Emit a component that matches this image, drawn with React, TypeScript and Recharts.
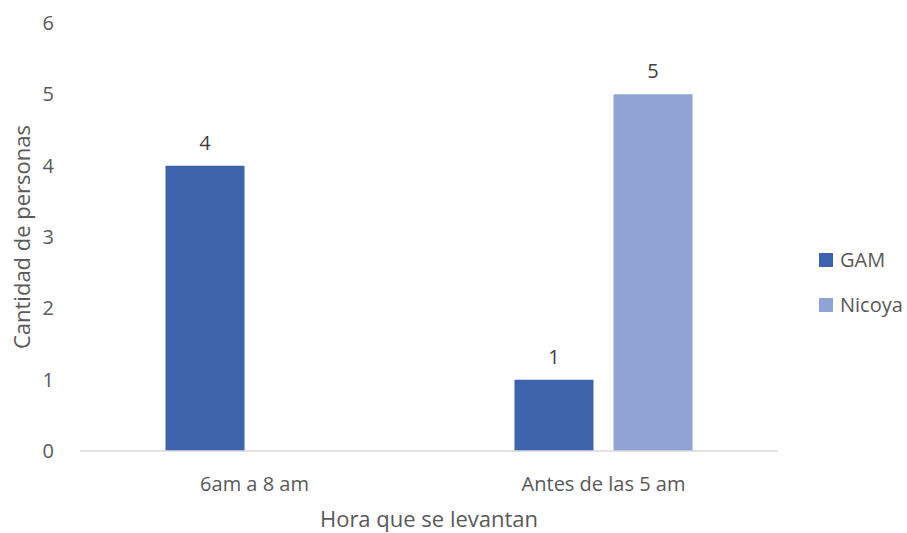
import { Bar, BarChart, Label, LabelList, XAxis, YAxis } from "recharts";

// Hours at which people get up, by region
const categories = ["6am a 8 am", "Antes de las 5 am"];
const gam = [4, 1];
const nicoya = [null, 5];
const yTicks = [0, 1, 2, 3, 4, 5, 6];

const series = [
  { key: "GAM", color: "#3C63AB" },
  { key: "Nicoya", color: "#8FA4D4" },
];

const data = categories.map((name, i) => ({
  name,
  GAM: gam[i],
  Nicoya: nicoya[i],
}));

const font = "'Open Sans', sans-serif";
const textColor = "#595959";

function LegendBox() {
  return (
    <div
      style={{
        position: "absolute",
        left: 819,
        top: 237,
        fontFamily: font,
        fontSize: 20,
        color: textColor,
      }}
    >
      {series.map((s) => (
        <div
          key={s.key}
          style={{ display: "flex", alignItems: "center", height: 45 }}
        >
          <span
            style={{
              width: 14,
              height: 14,
              background: s.color,
              marginRight: 7,
              display: "inline-block",
            }}
          />
          {s.key}
        </div>
      ))}
    </div>
  );
}

export default function App() {
  return (
    <div style={{ position: "absolute", left: 0, top: 0, background: "#fff" }}>
      <BarChart
        width={907}
        height={533}
        data={data}
        margin={{ top: 23, right: 129, bottom: 0, left: 0 }}
        barCategoryGap="24.5%"
        barGap={20}
      >
        <XAxis
          dataKey="name"
          height={82}
          tickLine={false}
          axisLine={{ stroke: "#D9D9D9", strokeWidth: 1.5 }}
          tick={{ fill: textColor, fontSize: 20, fontFamily: font }}
          tickMargin={20}
        >
          <Label
            value="Hora que se levantan"
            position="insideBottom"
            offset={6}
            style={{ fill: textColor, fontSize: 22, fontFamily: font }}
          />
        </XAxis>
        <YAxis
          width={80}
          domain={[0, 6]}
          ticks={yTicks}
          interval={0}
          tickLine={false}
          axisLine={false}
          tick={{ fill: textColor, fontSize: 20, fontFamily: font }}
          tickMargin={20}
        >
          <Label
            value="Cantidad de personas"
            position="center"
            angle={-90}
            dx={-18}
            style={{ fill: textColor, fontSize: 22, fontFamily: font }}
          />
        </YAxis>
        {series.map((s) => (
          <Bar
            key={s.key}
            dataKey={s.key}
            fill={s.color}
            isAnimationActive={false}
          >
            <LabelList
              dataKey={s.key}
              position="top"
              offset={16}
              style={{ fill: "#404040", fontSize: 20, fontFamily: font }}
            />
          </Bar>
        ))}
      </BarChart>
      <LegendBox />
    </div>
  );
}
